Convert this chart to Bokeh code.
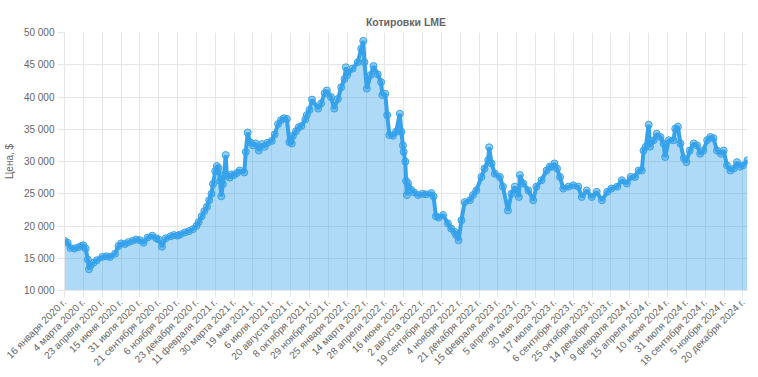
import numpy as np
from datetime import date
from bokeh.plotting import figure
from bokeh.models import FixedTicker, Range1d, ColumnDataSource
from bokeh.embed import file_html
from bokeh.resources import INLINE

title_text = "Котировки LME"
y_axis_title = "Цена, $"

tick_dates = [
    "2020-01-16", "2020-03-04", "2020-04-23", "2020-06-15", "2020-07-31", "2020-09-21",
    "2020-11-06", "2020-12-23", "2021-02-11", "2021-03-30", "2021-05-19", "2021-07-06",
    "2021-08-20", "2021-10-08", "2021-11-29", "2022-01-25", "2022-03-14", "2022-04-28",
    "2022-06-16", "2022-08-02", "2022-09-19", "2022-11-04", "2022-12-21", "2023-02-15",
    "2023-04-05", "2023-05-30", "2023-07-17", "2023-09-06", "2023-10-25", "2023-12-14",
    "2024-02-09", "2024-04-15", "2024-06-10", "2024-07-31", "2024-09-18", "2024-11-05",
    "2024-12-20",
]
tick_labels = [
    "16 января 2020 г.", "4 марта 2020 г.", "23 апреля 2020 г.", "15 июня 2020 г.",
    "31 июля 2020 г.", "21 сентября 2020 г.", "6 ноября 2020 г.", "23 декабря 2020 г.",
    "11 февраля 2021 г.", "30 марта 2021 г.", "19 мая 2021 г.", "6 июля 2021 г.",
    "20 августа 2021 г.", "8 октября 2021 г.", "29 ноября 2021 г.", "25 января 2022 г.",
    "14 марта 2022 г.", "28 апреля 2022 г.", "16 июня 2022 г.", "2 августа 2022 г.",
    "19 сентября 2022 г.", "4 ноября 2022 г.", "21 декабря 2022 г.", "15 февраля 2023 г.",
    "5 апреля 2023 г.", "30 мая 2023 г.", "17 июля 2023 г.", "6 сентября 2023 г.",
    "25 октября 2023 г.", "14 декабря 2023 г.", "9 февраля 2024 г.", "15 апреля 2024 г.",
    "10 июня 2024 г.", "31 июля 2024 г.", "18 сентября 2024 г.", "5 ноября 2024 г.",
    "20 декабря 2024 г.",
]
y_ticks = [10000, 15000, 20000, 25000, 30000, 35000, 40000, 45000, 50000]

dates = [
    "2020-01-16", "2020-01-24", "2020-01-31", "2020-02-10", "2020-02-20", "2020-02-28",
    "2020-03-04", "2020-03-10", "2020-03-16", "2020-03-19", "2020-03-23", "2020-03-31",
    "2020-04-09", "2020-04-23", "2020-05-05", "2020-05-15", "2020-05-29", "2020-06-08",
    "2020-06-15", "2020-06-24", "2020-07-03", "2020-07-13", "2020-07-22", "2020-07-31",
    "2020-08-10", "2020-08-21", "2020-09-03", "2020-09-14", "2020-09-21", "2020-09-29",
    "2020-10-08", "2020-10-20", "2020-10-28", "2020-11-06", "2020-11-13", "2020-11-24",
    "2020-12-04", "2020-12-14", "2020-12-23", "2020-12-29", "2021-01-06", "2021-01-13",
    "2021-01-20", "2021-01-26", "2021-02-01", "2021-02-05", "2021-02-11", "2021-02-15",
    "2021-02-19", "2021-02-23", "2021-02-26", "2021-03-02", "2021-03-05", "2021-03-09",
    "2021-03-12", "2021-03-19", "2021-03-24", "2021-03-30", "2021-04-06", "2021-04-14",
    "2021-04-26", "2021-04-30", "2021-05-05", "2021-05-11", "2021-05-19", "2021-05-26",
    "2021-06-03", "2021-06-11", "2021-06-18", "2021-06-25", "2021-07-06", "2021-07-13",
    "2021-07-21", "2021-07-28", "2021-08-04", "2021-08-11", "2021-08-17", "2021-08-23",
    "2021-08-26", "2021-09-03", "2021-09-10", "2021-09-17", "2021-09-27", "2021-10-01",
    "2021-10-08", "2021-10-15", "2021-11-01", "2021-11-09", "2021-11-19", "2021-11-25",
    "2021-12-07", "2021-12-17", "2021-12-28", "2022-01-07", "2022-01-17", "2022-01-21",
    "2022-01-25", "2022-02-08", "2022-02-21", "2022-03-02", "2022-03-07", "2022-03-10",
    "2022-03-16", "2022-03-25", "2022-04-01", "2022-04-11", "2022-04-19", "2022-04-22",
    "2022-04-29", "2022-05-04", "2022-05-10", "2022-05-19", "2022-05-27", "2022-06-06",
    "2022-06-10", "2022-06-14", "2022-06-16", "2022-06-20", "2022-06-22", "2022-06-24",
    "2022-06-27", "2022-07-05", "2022-07-12", "2022-07-22", "2022-08-02", "2022-08-11",
    "2022-08-24", "2022-08-30", "2022-09-05", "2022-09-12", "2022-09-23", "2022-10-05",
    "2022-10-13", "2022-10-21", "2022-10-25", "2022-10-31", "2022-11-07", "2022-11-15",
    "2022-11-28", "2022-12-06", "2022-12-14", "2022-12-28", "2023-01-06", "2023-01-17",
    "2023-01-20", "2023-01-27", "2023-02-06", "2023-02-20", "2023-02-28", "2023-03-13",
    "2023-03-22", "2023-03-31", "2023-04-11", "2023-04-14", "2023-04-24", "2023-05-09",
    "2023-05-23", "2023-06-01", "2023-06-14", "2023-06-27", "2023-07-05", "2023-07-10",
    "2023-07-17", "2023-07-24", "2023-08-01", "2023-08-10", "2023-08-24", "2023-09-06",
    "2023-09-19", "2023-09-28", "2023-10-11", "2023-10-24", "2023-11-06", "2023-11-20",
    "2023-12-04", "2023-12-15", "2024-01-02", "2024-01-16", "2024-01-31", "2024-02-12",
    "2024-02-27", "2024-03-11", "2024-03-22", "2024-03-28", "2024-04-05", "2024-04-15",
    "2024-04-19", "2024-04-30", "2024-05-09", "2024-05-20", "2024-05-29", "2024-06-03",
    "2024-06-13", "2024-06-26", "2024-07-01", "2024-07-08", "2024-07-15", "2024-07-24",
    "2024-07-31", "2024-08-09", "2024-08-19", "2024-08-28", "2024-09-05", "2024-09-13",
    "2024-09-23", "2024-10-01", "2024-10-09", "2024-10-18", "2024-10-28", "2024-11-04",
    "2024-11-12", "2024-11-20", "2024-11-28", "2024-12-06", "2024-12-13", "2024-12-20",
    "2024-12-31",
]
prices = [
    17700, 17400, 16600, 16500, 16700, 16900,
    17000, 16500, 14800, 13300, 13900, 14300,
    14700, 15200, 15300, 15200, 15700, 16900,
    17300, 17200, 17500, 17700, 17900, 17800,
    17400, 18200, 18500, 18100, 17900, 16800,
    18100, 18400, 18600, 18500, 18700, 19000,
    19200, 19500, 20000, 20600, 21500, 22300,
    23000, 24000, 25000, 26500, 28500, 29300,
    29000, 27000, 24600, 26500, 28000, 31000,
    27800, 27500, 28000, 27900, 28200, 28600,
    28300, 31500, 34500, 33000, 32500, 32800,
    31700, 32700, 32300, 32900, 33200, 34200,
    35800, 36400, 36700, 36600, 33000, 32800,
    34000, 34700, 35300, 35500, 36500, 37200,
    38000, 39600, 38200, 39000, 40600, 41000,
    40000, 38200, 39700, 41500, 42800, 44600,
    43400, 44400, 45400, 47500, 48700, 45400,
    41300, 43400, 44800, 43500, 42300, 40300,
    40500, 37200, 34100, 34000, 34600, 37400,
    34600, 32500, 31500, 30000, 27000, 24800,
    26600, 25600, 25200, 24800, 25000, 24900,
    25100, 24600, 21500, 21300, 21700, 20400,
    19600, 19100, 18600, 17800, 20900, 23700,
    24000, 24800, 25500, 27600, 28900, 30200,
    32200, 29700, 28100, 27600, 26100, 22400,
    25000, 26100, 24500, 27900, 26600, 25500,
    24000, 26100, 27100, 28600, 29200, 29200,
    29700, 28900, 27600, 25800, 26100, 26300,
    26100, 24500, 25500, 24500, 25300, 24000,
    25300, 25800, 26100, 27100, 26600, 27600,
    27600, 28600, 28600, 31700, 32300, 35700,
    32300, 33300, 34300, 33800, 32800, 30700,
    33300, 33300, 35100, 35400, 32800, 30500,
    29900, 31700, 32800, 32500, 31200, 31700,
    33300, 33800, 33600, 31700, 31200, 31700,
    29400, 28600, 28900, 29900, 29200, 29400,
    30200,
]

# category-like x scale: each labelled date sits on its own evenly spaced slot
def to_ord(s):
    return date.fromisoformat(s).toordinal()

t_ord = np.array([to_ord(d) for d in tick_dates], dtype=float)
t_ext = np.append(t_ord, t_ord[-1] + (t_ord[-1] - t_ord[-2]))
slots = np.arange(len(t_ext), dtype=float)
xs = np.interp([to_ord(d) for d in dates], t_ext, slots)

src = ColumnDataSource(dict(x=xs, y=prices, base=[y_ticks[0]] * len(prices)))

FONT = "Liberation Sans"
GRID = "#e6e6e6"
TEXT = "#666666"
BLUE = "#36A2EB"

p = figure(width=750, height=377, output_backend="svg", toolbar_location=None,
           x_range=Range1d(0, float(xs[-1])), y_range=Range1d(y_ticks[0], y_ticks[-1]),
           min_border_left=64, min_border_right=3, min_border_top=32, min_border_bottom=87)

p.title.text = title_text
p.title.align = "center"
p.title.text_font = FONT
p.title.text_font_size = "10.5px"
p.title.text_font_style = "bold"
p.title.text_color = TEXT

p.varea(x="x", y1="base", y2="y", source=src, fill_color=BLUE, fill_alpha=0.4)
p.line(x="x", y="y", source=src, line_color=BLUE, line_width=4)
p.scatter(x="x", y="y", source=src, size=7, line_color=BLUE, line_width=1,
          fill_color=BLUE, fill_alpha=0.5)

p.xaxis.ticker = FixedTicker(ticks=list(range(len(tick_labels))))
p.xaxis.major_label_overrides = {i: lab for i, lab in enumerate(tick_labels)}
p.xaxis.major_label_orientation = np.pi / 4
p.yaxis.ticker = FixedTicker(ticks=y_ticks)
p.yaxis.major_label_overrides = {v: f"{v:,}".replace(",", " ") for v in y_ticks}
p.yaxis.axis_label = y_axis_title

for ax in (p.xaxis[0], p.yaxis[0]):
    ax.axis_line_color = GRID
    ax.major_tick_line_color = GRID
    ax.major_tick_out = 7
    ax.major_tick_in = 0
    ax.minor_tick_line_color = None
    ax.major_label_text_font = FONT
    ax.major_label_text_font_size = "10px"
    ax.major_label_text_color = TEXT
    ax.major_label_standoff = 3
    ax.axis_label_text_font = FONT
    ax.axis_label_text_font_size = "10px"
    ax.axis_label_text_font_style = "normal"
    ax.axis_label_text_color = TEXT
    ax.axis_label_standoff = 6

p.grid.grid_line_color = GRID
p.outline_line_color = None
p.background_fill_color = "white"
p.border_fill_color = "white"

open("out.html", "w").write(file_html(p, INLINE))
